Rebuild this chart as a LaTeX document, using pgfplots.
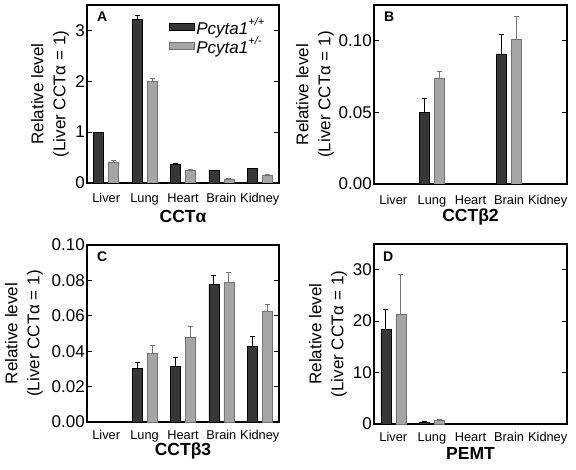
\documentclass[border=0pt]{standalone}
\usepackage{fontspec}
\setmainfont{Liberation Sans}
\usepackage{pgfplots}
\pgfplotsset{compat=1.18}
\definecolor{darkbar}{RGB}{55,55,55}
\definecolor{lightbar}{RGB}{165,165,165}
\definecolor{lightedge}{RGB}{115,115,115}
\pgfplotsset{
  panel/.style={
    scale only axis,
    ybar=5pt, bar width=10pt,
    xmin=-0.5, xmax=4.5,
    xtick={0,1,2,3,4}, xticklabels={Liver,Lung,Heart,Brain,Kidney},
    x tick style={draw=none},
    ymin=0,
    tick align=inside, ytick pos=both, yticklabel pos=left,
    major tick length=5pt,
    axis line style={line width=1.4pt},
    y tick style={line width=1pt, black},
    /pgf/number format/assume math mode=true,
    scaled y ticks=false,
    y tick label style={font=\fontsize{17}{20}\selectfont, inner sep=0pt, xshift=-2pt},
    x tick label style={font=\fontsize{12.8}{15}\selectfont, inner sep=0pt, anchor=north},
    ylabel={Relative level\\(Liver CCTα = 1)},
    xlabel style={inner sep=0pt, anchor=north, font=\bfseries\fontsize{17.5}{20}\selectfont},
    ylabel style={align=center, font=\fontsize{17}{22}\selectfont, inner sep=0pt, anchor=south},
  },
  darkser/.style={fill=darkbar, draw=black, line width=0.6pt,
    error bars/.cd, y dir=plus, y explicit,
    error bar style={line width=0.8pt, black},
    error mark options={rotate=90, line width=0.8pt, mark size=2.5pt, black}},
  lightser/.style={fill=lightbar, draw=lightedge, line width=0.6pt,
    error bars/.cd, y dir=plus, y explicit,
    error bar style={line width=0.8pt, lightedge},
    error mark options={rotate=90, line width=0.8pt, mark size=2.5pt, lightedge}},
}
\begin{document}
\begin{tikzpicture}
\useasboundingbox (0pt,0pt) rectangle (576pt,469pt);
% Panel A
\begin{axis}[panel, at={(87pt,286pt)}, anchor=south west, width=192pt, height=178pt,
  ymax=3.5, ytick={0,1,2,3},
  x tick label style={yshift=-10pt},
  xlabel={CCTα}, xlabel style={at={([yshift=-27pt]rel axis cs:0.5,0)}},
  ylabel style={at={([xshift=-18pt]rel axis cs:0,0.5)}},
  legend style={draw=none, fill=none, at={(rel axis cs:0.425,0.94)}, anchor=north west,
    font=\itshape\fontsize{17}{20}\selectfont, row sep=-3pt, inner sep=0pt,
    nodes={inner sep=2pt}, cells={anchor=west}},
  legend image code/.code={\draw[#1] (0pt,-3.5pt) rectangle (25pt,3.5pt);},
]
\addplot[darkser] coordinates {(0,1.0) +- (0,0.0) (1,3.22) +- (0,0.07) (2,0.37) +- (0,0.02) (3,0.24) +- (0,0.015) (4,0.28) +- (0,0.015)};
\addplot[lightser] coordinates {(0,0.41) +- (0,0.03) (1,1.99) +- (0,0.07) (2,0.25) +- (0,0.015) (3,0.08) +- (0,0.015) (4,0.16) +- (0,0.015)};
\legend{Pcyta1\raisebox{0.5em}{\fontsize{11}{11}\selectfont +/+}, Pcyta1\raisebox{0.5em}{\fontsize{11}{11}\selectfont +/-}}
\node[anchor=north west, inner sep=0pt, font=\bfseries\fontsize{14}{14}\selectfont] at ([xshift=10pt,yshift=-7pt]rel axis cs:0,1) {A};
\end{axis}
% Panel B
\begin{axis}[panel, at={(374pt,285pt)}, anchor=south west, width=193pt, height=179pt,
  ymax=0.125, ytick={0,0.05,0.1},
  yticklabel style={/pgf/number format/.cd, fixed, fixed zerofill, precision=2},
  x tick label style={yshift=-11pt},
  xlabel={CCTβ2}, xlabel style={at={([yshift=-25pt]rel axis cs:0.5,0)}},
  ylabel style={at={([xshift=-40pt]rel axis cs:0,0.5)}},
]
\addplot[darkser] coordinates {(1,0.050) +- (0,0.0095) (3,0.0909) +- (0,0.0137)};
\addplot[lightser] coordinates {(1,0.0741) +- (0,0.0042) (3,0.1009) +- (0,0.0164)};
\node[anchor=north west, inner sep=0pt, font=\bfseries\fontsize{14}{14}\selectfont] at ([xshift=10pt,yshift=-7pt]rel axis cs:0,1) {B};
\end{axis}
% Panel C
\begin{axis}[panel, at={(87pt,47pt)}, anchor=south west, width=192pt, height=177pt,
  ymax=0.10, ytick={0,0.02,0.04,0.06,0.08,0.10},
  yticklabel style={/pgf/number format/.cd, fixed, fixed zerofill, precision=2},
  x tick label style={yshift=-8pt},
  xlabel={CCTβ3}, xlabel style={at={([yshift=-21pt]rel axis cs:0.5,0)}},
  ylabel style={at={([xshift=-44pt]rel axis cs:0,0.5)}},
]
\addplot[darkser] coordinates {(1,0.0303) +- (0,0.0034) (2,0.0316) +- (0,0.005) (3,0.0776) +- (0,0.005) (4,0.0429) +- (0,0.0057)};
\addplot[lightser] coordinates {(1,0.0388) +- (0,0.0045) (2,0.0479) +- (0,0.0059) (3,0.0789) +- (0,0.0058) (4,0.0625) +- (0,0.0042)};
\node[anchor=north west, inner sep=0pt, font=\bfseries\fontsize{14}{14}\selectfont] at ([xshift=10pt,yshift=-7pt]rel axis cs:0,1) {C};
\end{axis}
% Panel D
\begin{axis}[panel, at={(374pt,45pt)}, anchor=south west, width=193pt, height=180pt,
  ymax=35, ytick={0,10,20,30},
  x tick label style={yshift=-8pt},
  xlabel={PEMT}, xlabel style={at={([yshift=-23pt]rel axis cs:0.5,0)}},
  ylabel style={at={([xshift=-27pt]rel axis cs:0,0.5)}},
]
\addplot[darkser] coordinates {(0,18.45) +- (0,3.9) (1,0.35) +- (0,0.1)};
\addplot[lightser] coordinates {(0,21.3) +- (0,7.7) (1,0.65) +- (0,0.15)};
\node[anchor=north west, inner sep=0pt, font=\bfseries\fontsize{14}{14}\selectfont] at ([xshift=9pt,yshift=-8pt]rel axis cs:0,1) {D};
\end{axis}
\end{tikzpicture}
\end{document}
